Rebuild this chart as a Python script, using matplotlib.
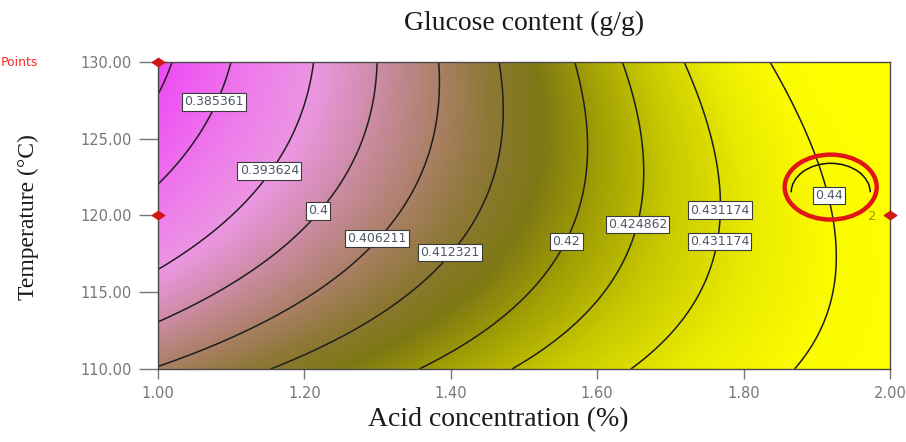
import numpy as np
import matplotlib
matplotlib.use("Agg")
import matplotlib.pyplot as plt
from matplotlib.colors import LinearSegmentedColormap, Normalize
from matplotlib.patches import Ellipse, Arc
from matplotlib.path import Path

# ---------------- data ----------------
acid_ticks = [1.00, 1.20, 1.40, 1.60, 1.80, 2.00]
temp_ticks = [110.0, 115.0, 120.0, 125.0, 130.0]

contour_levels = [0.3795, 0.385361, 0.393624, 0.4, 0.406211, 0.412321,
                  0.42, 0.424862, 0.431174, 0.44]

# points (acid %, temperature, level)
pt_acid = [1.020, 1.000,
           1.097, 1.055, 1.000,
           1.210, 1.150, 1.098, 1.048, 1.000,
           1.299, 1.255, 1.214, 1.102, 1.000,
           1.383, 1.385, 1.303, 1.139, 1.000,
           1.467, 1.474, 1.467, 1.397, 1.290, 1.164,
           1.570, 1.590, 1.556, 1.497, 1.436, 1.364,
           1.635, 1.668, 1.654, 1.622, 1.508, 1.490,
           1.717, 1.764, 1.764, 1.727, 1.645,
           1.839, 1.881, 1.902, 1.915, 1.925, 1.925, 1.904, 1.863]
pt_temp = [130.0, 128.0,
           130.0, 124.3, 122.1,
           130.0, 122.8, 119.7, 117.9, 116.5,
           130.0, 123.5, 119.7, 115.8, 113.0,
           130.0, 127.8, 118.7, 113.2, 110.2,
           130.0, 126.7, 123.5, 117.5, 113.2, 110.0,
           130.0, 123.5, 118.7, 114.2, 112.6, 110.0,
           130.0, 122.8, 119.4, 114.8, 111.0, 110.0,
           130.0, 122.3, 118.3, 114.1, 110.0,
           130.0, 124.9, 123.6, 121.4, 118.4, 115.0, 112.1, 110.0]
pt_level = ([0.3795] * 2 + [0.385361] * 3 + [0.393624] * 5 + [0.4] * 5 +
            [0.406211] * 5 + [0.412321] * 6 + [0.42] * 6 + [0.424862] * 6 +
            [0.431174] * 5 + [0.44] * 8)

label_text = ["0.385361", "0.393624", "0.4", "0.406211", "0.412321",
              "0.42", "0.424862", "0.431174", "0.431174", "0.44"]
label_acid = [1.0765, 1.152, 1.219, 1.299, 1.399, 1.558, 1.655, 1.768, 1.767, 1.917]
label_temp = [127.4, 122.9, 120.3, 118.5, 117.6, 118.3, 119.4, 120.35, 118.3, 121.3]

design_acid = [1.0, 1.0, 2.0]
design_temp = [130.0, 120.0, 120.0]

# ---------------- response surface (quadratic fit to read points) ----------------
a = (np.array(pt_acid) - 1.5) / 0.5
t = (np.array(pt_temp) - 120.0) / 10.0
X = np.column_stack([np.ones_like(a), a, t, a * t, a ** 2, t ** 2])
coef, *_ = np.linalg.lstsq(X, np.array(pt_level), rcond=None)

A = np.linspace(1.0, 2.0, 401)
T = np.linspace(110.0, 130.0, 401)
AA, TT = np.meshgrid(A, T)
ga = (AA - 1.5) / 0.5
gt = (TT - 120.0) / 10.0
Z = (coef[0] + coef[1] * ga + coef[2] * gt + coef[3] * ga * gt
     + coef[4] * ga ** 2 + coef[5] * gt ** 2)

# ---------------- colour map ----------------
vmin, vmax = 0.377, 0.445
nodes = [(0.377, (238, 68, 245)), (0.388, (238, 125, 235)), (0.394, (235, 150, 225)),
         (0.400, (205, 140, 165)), (0.406, (172, 128, 104)), (0.411, (142, 120, 55)),
         (0.416, (126, 120, 20)), (0.421, (160, 158, 5)), (0.427, (200, 200, 0)),
         (0.434, (235, 235, 0)), (0.440, (252, 252, 0)), (0.445, (255, 255, 0))]
cmap = LinearSegmentedColormap.from_list(
    "glu", [((v - vmin) / (vmax - vmin), tuple(c / 255 for c in col)) for v, col in nodes])

# ---------------- figure ----------------
W, H = 906, 442
fig = plt.figure(figsize=(W / 100, H / 100), dpi=100)
ax = fig.add_axes([158 / W, 1 - 369 / H, 732 / W, 307 / H])

ax.imshow(Z, extent=[1.0, 2.0, 110.0, 130.0], origin="lower", aspect="auto",
          cmap=cmap, norm=Normalize(vmin, vmax), interpolation="bilinear")
ax.contour(AA, TT, Z, levels=contour_levels, colors="#1e1e1e", linewidths=1.1)

for s, xa, yt in zip(label_text, label_acid, label_temp):
    ax.text(xa, yt, s, ha="center", va="center", fontsize=9, color="#505868",
            family="DejaVu Sans",
            bbox=dict(boxstyle="square,pad=0.18", fc="white", ec="#3a3a3a", lw=0.8),
            zorder=5)

# red highlight ellipse
ax.add_patch(Ellipse((1.919, 121.85), 0.1257, 4.23, fill=False, ec="#E01515",
                     lw=3.2, zorder=6))
ax.add_patch(Arc((1.919, 121.5), 0.108, 3.8, theta1=12, theta2=168,
                 ec="#111111", lw=1.1, zorder=6))

# design points
diamond = Path([(-1.5, 0), (0, 1), (1.5, 0), (0, -1), (-1.5, 0)],
               [Path.MOVETO, Path.LINETO, Path.LINETO, Path.LINETO, Path.CLOSEPOLY])
ax.plot(design_acid, design_temp, linestyle="none", marker=diamond, ms=9,
        color="#D01818", clip_on=False, zorder=7)
ax.annotate("2", xy=(design_acid[2], design_temp[2]), xytext=(-18, -1),
            textcoords="offset pixels", ha="center", va="center",
            color="#9A9A00", fontsize=9.5, annotation_clip=False)

ax.set_xlim(1.0, 2.0)
ax.set_ylim(110.0, 130.0)
ax.set_xticks(acid_ticks)
ax.set_xticklabels([f"{v:.2f}" for v in acid_ticks])
ax.set_yticks(temp_ticks)
ax.set_yticklabels([f"{v:.2f}" for v in temp_ticks])
ax.tick_params(axis="y", length=14, width=1, color="#777777", pad=5,
               labelsize=10.5, labelcolor="#777777")
ax.tick_params(axis="x", length=7, width=1, color="#777777", pad=5,
               labelsize=10.5, labelcolor="#777777")
for sp in ax.spines.values():
    sp.set_color("#4a4a4a")
    sp.set_linewidth(1.0)

fig.text(524 / W, 1 - 23 / H, "Glucose content (g/g)", ha="center", va="center",
         family="Liberation Serif", fontsize=20, color="#1a1a1a")
fig.text(498 / W, 1 - 420 / H, "Acid concentration (%)", ha="center", va="center",
         family="Liberation Serif", fontsize=20, color="#1a1a1a")
fig.text(28 / W, 1 - 217 / H, "Temperature (°C)", ha="center", va="center",
         rotation=90, family="Liberation Serif", fontsize=17, color="#1a1a1a")
fig.text(1 / W, 1 - 62 / H, "Points", ha="left", va="center",
         color="#FF2A2A", fontsize=9)

fig.savefig("out.png", dpi=100)
